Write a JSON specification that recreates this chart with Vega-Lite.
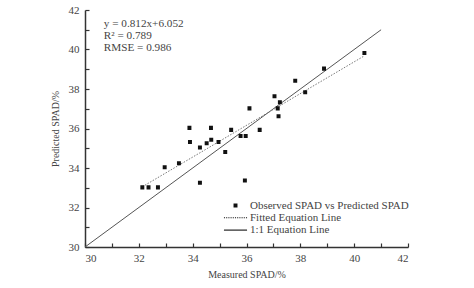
{
  "$schema": "https://vega.github.io/schema/vega-lite/v6.json",
  "width": 323,
  "height": 237,
  "autosize": "none",
  "padding": {"left": 85, "top": 10, "right": 66, "bottom": 41},
  "background": "white",
  "config": {
    "view": {"stroke": null},
    "font": "Liberation Serif",
    "axis": {
      "grid": false,
      "domainColor": "#333",
      "domainWidth": 1.5,
      "ticks": true,
      "tickColor": "#333",
      "tickWidth": 1.2,
      "labelFont": "Liberation Serif",
      "labelFontSize": 11,
      "labelColor": "#444",
      "labelOverlap": false,
      "titleFont": "Liberation Serif",
      "titleFontSize": 10,
      "titleFontWeight": "normal",
      "titleColor": "#444"
    }
  },
  "encoding": {
    "x": {"field": "x", "type": "quantitative", "scale": {"domain": [30, 42], "nice": false, "zero": false},
      "axis": {"title": "Measured SPAD/%", "values": [30,31,32,33,34,35,36,37,38,39,40,41,42],
        "labelExpr": "datum.value % 2 === 0 ? datum.label : ''",
        "ticks": true, "tickSize": -4,
        "labelOverlap": false,
        "labelPadding": 9, "titlePadding": 6}},
    "y": {"field": "y", "type": "quantitative", "scale": {"domain": [30, 42], "nice": false, "zero": false},
      "axis": {"title": "Predicted SPAD/%", "values": [30,31,32,33,34,35,36,37,38,39,40,41,42],
        "labelExpr": "datum.value % 2 === 0 ? datum.label : ''",
        "ticks": true, "tickSize": -4,
        "labelOverlap": false,
        "labelPadding": 10, "titlePadding": 8}}
  },
  "layer": [
    {
      "data": {"values": [
        {"series": "1:1 Equation Line", "x": 30, "y": 30},
        {"series": "1:1 Equation Line", "x": 41, "y": 41}
      ]},
      "mark": {"type": "line", "color": "#555", "strokeWidth": 1}
    },
    {
      "data": {"values": [
        {"series": "Fitted Equation Line", "x": 32.13, "y": 33.05},
        {"series": "Fitted Equation Line", "x": 40.38, "y": 39.68}
      ]},
      "mark": {"type": "line", "color": "#777", "strokeWidth": 1, "strokeDash": [1.5, 1.5]}
    },
    {
      "data": {"values": [
        {"series": "Observed SPAD vs Predicted SPAD", "x": 32.13, "y": 33.02},
        {"series": "Observed SPAD vs Predicted SPAD", "x": 32.36, "y": 33.02},
        {"series": "Observed SPAD vs Predicted SPAD", "x": 32.71, "y": 33.02},
        {"series": "Observed SPAD vs Predicted SPAD", "x": 32.96, "y": 34.04},
        {"series": "Observed SPAD vs Predicted SPAD", "x": 33.49, "y": 34.24},
        {"series": "Observed SPAD vs Predicted SPAD", "x": 33.88, "y": 36.03},
        {"series": "Observed SPAD vs Predicted SPAD", "x": 33.9, "y": 35.32},
        {"series": "Observed SPAD vs Predicted SPAD", "x": 34.27, "y": 35.04},
        {"series": "Observed SPAD vs Predicted SPAD", "x": 34.27, "y": 33.25},
        {"series": "Observed SPAD vs Predicted SPAD", "x": 34.52, "y": 35.25},
        {"series": "Observed SPAD vs Predicted SPAD", "x": 34.68, "y": 36.03},
        {"series": "Observed SPAD vs Predicted SPAD", "x": 34.69, "y": 35.43},
        {"series": "Observed SPAD vs Predicted SPAD", "x": 34.96, "y": 35.32},
        {"series": "Observed SPAD vs Predicted SPAD", "x": 35.21, "y": 34.81},
        {"series": "Observed SPAD vs Predicted SPAD", "x": 35.43, "y": 35.93},
        {"series": "Observed SPAD vs Predicted SPAD", "x": 35.78, "y": 35.62},
        {"series": "Observed SPAD vs Predicted SPAD", "x": 35.97, "y": 35.62},
        {"series": "Observed SPAD vs Predicted SPAD", "x": 35.94, "y": 33.37},
        {"series": "Observed SPAD vs Predicted SPAD", "x": 36.11, "y": 37.02},
        {"series": "Observed SPAD vs Predicted SPAD", "x": 36.49, "y": 35.93},
        {"series": "Observed SPAD vs Predicted SPAD", "x": 37.04, "y": 37.63},
        {"series": "Observed SPAD vs Predicted SPAD", "x": 37.16, "y": 37.02},
        {"series": "Observed SPAD vs Predicted SPAD", "x": 37.19, "y": 36.62},
        {"series": "Observed SPAD vs Predicted SPAD", "x": 37.24, "y": 37.33},
        {"series": "Observed SPAD vs Predicted SPAD", "x": 37.81, "y": 38.42},
        {"series": "Observed SPAD vs Predicted SPAD", "x": 38.18, "y": 37.84},
        {"series": "Observed SPAD vs Predicted SPAD", "x": 38.88, "y": 39.03},
        {"series": "Observed SPAD vs Predicted SPAD", "x": 40.38, "y": 39.82}
      ]},
      "mark": {"type": "point", "filled": false, "color": "#111", "strokeWidth": 1.1, "opacity": 1, "size": 121},
      "encoding": {
        "shape": {
          "field": "series", "type": "nominal",
          "scale": {
            "domain": ["Observed SPAD vs Predicted SPAD", "Fitted Equation Line", "1:1 Equation Line"],
            "range": [
              "M-0.36,-0.27H0.36M-0.36,-0.09H0.36M-0.36,0.09H0.36M-0.36,0.27H0.36",
              "M-2.1,0H-1.9M-1.7,0H-1.5M-1.3,0H-1.1M-0.9,0H-0.7M-0.5,0H-0.3M-0.1,0H0.1M0.3,0H0.5M0.7,0H0.9M1.1,0H1.3M1.5,0H1.7M1.9,0H2.1",
              "M-2.1,0H2.1"
            ]
          },
          "legend": {
            "title": null,
            "orient": "none",
            "legendX": 144,
            "legendY": 189,
            "symbolSize": 121,
            "symbolStrokeWidth": 1.1,
            "rowPadding": 0.3,
            "labelOffset": 8,
            "labelFont": "Liberation Serif",
            "labelFontSize": 11,
            "labelColor": "#444",
            "padding": 0,
            "labelLimit": 300
          }
        }
      }
    },
    {
      "data": {"values": [
        {"t": "y = 0.812x+6.052", "x": 30.7, "y": 41.3},
        {"t": "R² = 0.789", "x": 30.7, "y": 40.69},
        {"t": "RMSE = 0.986", "x": 30.7, "y": 40.1}
      ]},
      "mark": {"type": "text", "align": "left", "baseline": "middle", "font": "Liberation Serif", "fontSize": 11.2, "color": "#444"},
      "encoding": {
        "text": {"field": "t"}
      }
    }
  ]
}
